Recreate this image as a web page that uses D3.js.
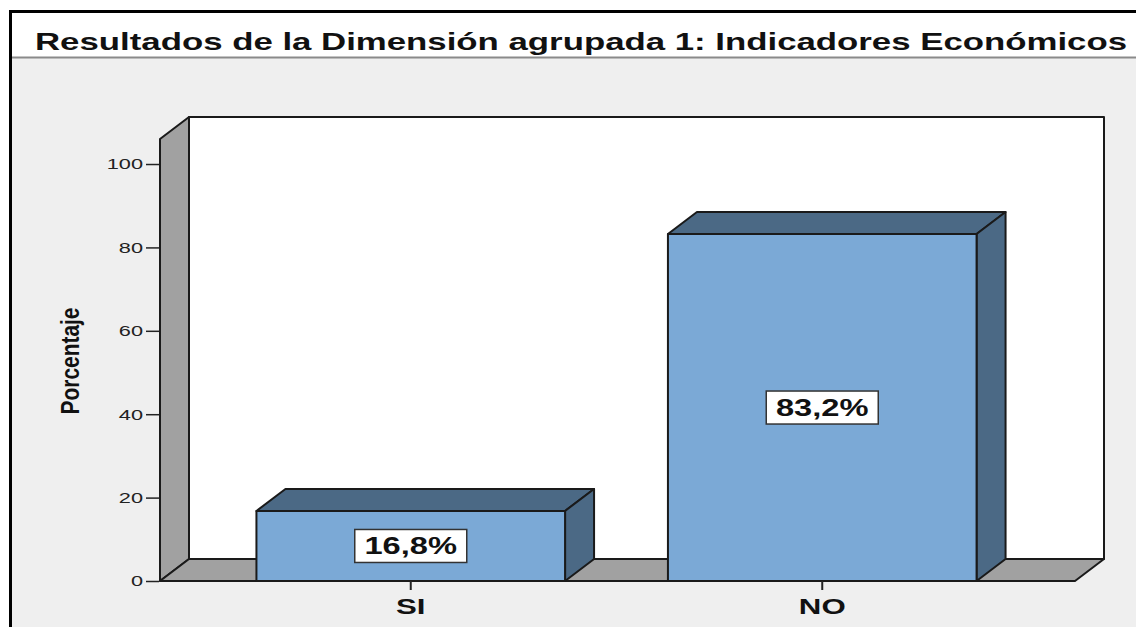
<!DOCTYPE html>
<html>
<head>
<meta charset="utf-8">
<script src="https://cdn.jsdelivr.net/npm/d3@7"></script>
<style>
  html, body { margin: 0; padding: 0; background: #ffffff; }
  svg { display: block; }
</style>
</head>
<body>
<svg id="chart" width="1136" height="627"></svg>
<script>
// data
var categories = ["SI", "NO"];
var percentages = [16.8, 83.2];
var valueLabels = ["16,8%", "83,2%"];
var yTicks = [0, 20, 40, 60, 80, 100];
var titleText = "Resultados de la Dimensión agrupada 1: Indicadores Económicos";
var yTitle = "Porcentaje";

var svg = d3.select("#chart");

// 3d depth offset of the chart box
var dx = 29, dy = -22;
var frontLeft = 160, frontRight = 1075;
// the original is stretched sideways, text too
var stretch = 1.42;

var y = d3.scaleLinear().domain([0, 106]).range([581, 139]);
var x = d3.scaleBand()
  .domain(categories)
  .range([205, 1028])
  .paddingInner(0.25)
  .paddingOuter(0.125);

// outer frame + title strip
svg.append("rect")
  .attr("x", 0).attr("y", 0).attr("width", 1136).attr("height", 627)
  .attr("fill", "#ffffff");
svg.append("rect")
  .attr("x", 10.5).attr("y", 11.5).attr("width", 1140).attr("height", 640)
  .attr("fill", "#efefef")
  .attr("stroke", "#000").attr("stroke-width", 3);
svg.append("rect")
  .attr("x", 12).attr("y", 13).attr("width", 1130).attr("height", 44)
  .attr("fill", "#ffffff");
svg.append("line")
  .attr("x1", 12).attr("x2", 1136).attr("y1", 57.5).attr("y2", 57.5)
  .attr("stroke", "#8a8a8a").attr("stroke-width", 2);

svg.append("text")
  .attr("x", 35).attr("y", 50)
  .attr("textLength", 1092)
  .attr("lengthAdjust", "spacingAndGlyphs")
  .style("font-family", "'Liberation Sans', Arial, sans-serif")
  .style("font-size", "24px")
  .style("font-weight", "bold")
  .attr("fill", "#111")
  .text(titleText);

// walls
var y0 = y(0), yTop = y.range()[1];
var g = svg.append("g")
  .attr("stroke", "#1a1a1a").attr("stroke-width", 2).attr("stroke-linejoin", "round");

// back wall
g.append("rect")
  .attr("x", frontLeft + dx).attr("y", yTop + dy)
  .attr("width", frontRight - frontLeft).attr("height", y0 - yTop)
  .attr("fill", "#ffffff");

var poly = function(pts) { return "M" + pts.map(function(p) { return p.join(","); }).join("L") + "Z"; };

// left wall
g.append("path")
  .attr("d", poly([[frontLeft, y0], [frontLeft, yTop], [frontLeft + dx, yTop + dy], [frontLeft + dx, y0 + dy]]))
  .attr("fill", "#a1a1a1");
// floor
g.append("path")
  .attr("d", poly([[frontLeft, y0], [frontLeft + dx, y0 + dy], [frontRight + dx, y0 + dy], [frontRight, y0]]))
  .attr("fill", "#a1a1a1");

// bars
var bars = g.selectAll("g.bar")
  .data(percentages)
  .enter().append("g").attr("class", "bar");

bars.append("path")
  .attr("d", function(d, i) {
    var x0 = x(categories[i]), x1 = x0 + x.bandwidth(), yt = y(d);
    return poly([[x0, yt], [x0 + dx, yt + dy], [x1 + dx, yt + dy], [x1, yt]]);
  })
  .attr("fill", "#4b6985");
bars.append("path")
  .attr("d", function(d, i) {
    var x1 = x(categories[i]) + x.bandwidth(), yt = y(d);
    return poly([[x1, yt], [x1 + dx, yt + dy], [x1 + dx, y0 + dy], [x1, y0]]);
  })
  .attr("fill", "#4b6985");
bars.append("rect")
  .attr("x", function(d, i) { return x(categories[i]); })
  .attr("y", function(d) { return y(d); })
  .attr("width", x.bandwidth())
  .attr("height", function(d) { return y0 - y(d); })
  .attr("fill", "#7ba9d6");

// value labels
var labels = svg.selectAll("g.vlabel")
  .data(percentages)
  .enter().append("g").attr("class", "vlabel")
  .attr("transform", function(d, i) {
    return "translate(" + (x(categories[i]) + x.bandwidth() / 2) + "," + ((y(d) + y0) / 2) + ")";
  });
labels.append("rect")
  .attr("x", -56).attr("y", -16.5).attr("width", 112).attr("height", 33)
  .attr("fill", "#ffffff").attr("stroke", "#333").attr("stroke-width", 1.5);
labels.append("text")
  .attr("text-anchor", "middle").attr("dy", "0.36em")
  .attr("transform", "scale(" + stretch + ",1)")
  .style("font-family", "'Liberation Sans', Arial, sans-serif")
  .style("font-size", "23px").style("font-weight", "bold")
  .attr("fill", "#111")
  .text(function(d, i) { return valueLabels[i]; });

// y axis
var yAxis = svg.append("g")
  .attr("transform", "translate(" + (frontLeft - 1) + ",0)")
  .call(d3.axisLeft(y).tickValues(yTicks).tickSize(13).tickPadding(2));
yAxis.select(".domain").remove();
yAxis.selectAll("line").attr("stroke", "#222").attr("stroke-width", 1.5);
yAxis.selectAll("text")
  .attr("x", -16 / 1.45)
  .attr("transform", "scale(1.45,1)")
  .style("font-family", "'Liberation Sans', Arial, sans-serif")
  .style("font-size", "15px")
  .attr("fill", "#222");

// x axis
var xAxis = svg.append("g")
  .attr("transform", "translate(0," + y0 + ")")
  .call(d3.axisBottom(x).tickSize(9).tickPadding(8));
xAxis.select(".domain").remove();
xAxis.selectAll("line").attr("stroke", "#222").attr("stroke-width", 2);
xAxis.selectAll("text")
  .attr("transform", "scale(" + stretch + ",1)")
  .style("font-family", "'Liberation Sans', Arial, sans-serif")
  .style("font-size", "22px").style("font-weight", "bold")
  .attr("fill", "#111");

// y title
svg.append("text")
  .attr("transform", "translate(79,361) rotate(-90)")
  .attr("text-anchor", "middle")
  .attr("textLength", 107)
  .attr("lengthAdjust", "spacingAndGlyphs")
  .style("font-family", "'Liberation Sans Narrow', 'Liberation Sans', Arial, sans-serif")
  .style("font-size", "25px").style("font-weight", "bold")
  .attr("fill", "#111")
  .text(yTitle);
</script>
</body>
</html>
